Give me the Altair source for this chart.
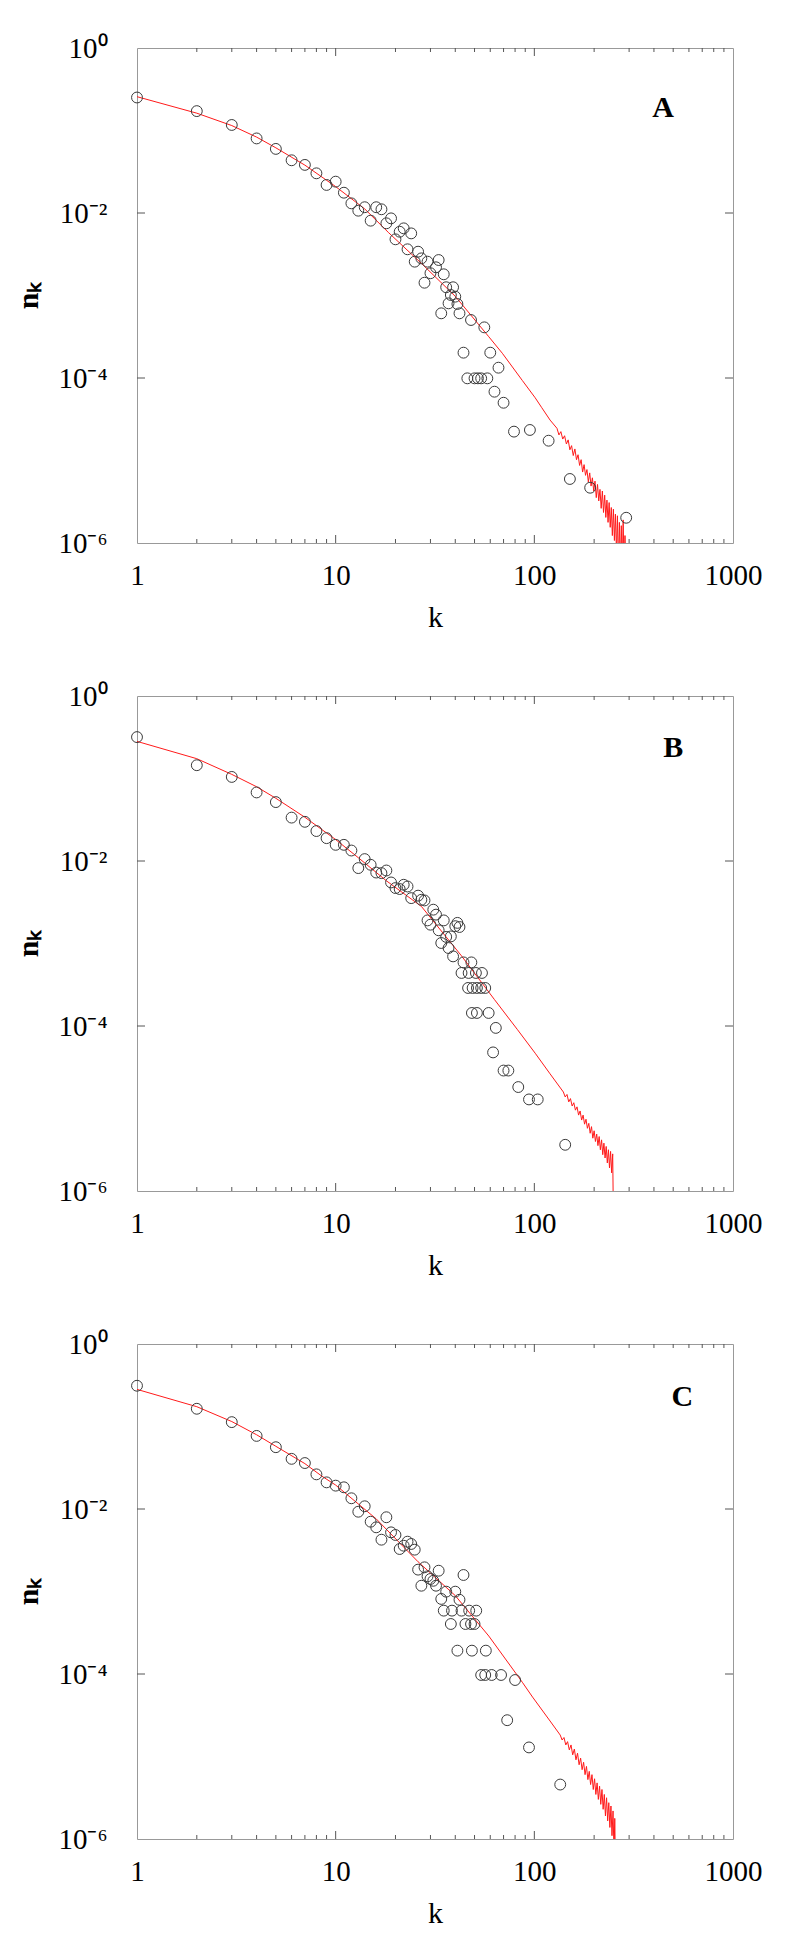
import altair as alt
import pandas as pd

# ---------------- data (k, log10 n) ----------------
A_pts_k = [1, 2, 3, 4, 5, 6, 7, 8, 9, 10, 11, 12, 13, 14, 15, 16, 17, 18, 19, 20,
           21, 22, 23, 24, 25, 26, 27, 28, 29, 30, 32, 33, 34, 35, 36, 37, 38, 39, 40,
           41, 42, 44, 46, 48, 50, 52, 54, 56, 58, 60, 63, 66, 70, 79, 95, 118, 151, 191, 290]
A_pts_logn = [-0.60, -0.765, -0.933, -1.096, -1.223, -1.361, -1.417, -1.519, -1.66, -1.62,
              -1.754, -1.883, -1.972, -1.93, -2.093, -1.93, -1.955, -2.125, -2.065, -2.319,
              -2.227, -2.186, -2.44, -2.247, -2.59, -2.469, -2.55, -2.845, -2.59, -2.73,
              -2.658, -2.57, -3.216, -2.743, -2.90, -3.095, -2.994, -2.90, -3.014,
              -3.103, -3.216, -3.693, -4.004, -3.297, -4.004, -4.004, -4.004, -3.386, -4.004,
              -3.693, -4.166, -3.875, -4.30, -4.65, -4.63, -4.76, -5.224, -5.33, -5.694]

A_line_k = [1, 2, 3, 4, 5, 7, 10, 14, 18.5, 27, 40, 59, 69, 87, 101, 109, 120,
            130, 133, 136, 139, 142, 145, 148, 151, 154, 157, 160, 163, 166, 169, 172, 175,
            178, 181, 184, 187, 190, 193, 196, 199, 202, 205, 208, 211, 214, 217, 220, 223,
            226, 229, 232, 235, 238, 241, 244, 247, 250, 253, 256, 259, 262, 265, 268, 271,
            274, 277, 280, 283, 286, 289]
A_line_logn = [-0.59, -0.79, -0.94, -1.08, -1.21, -1.42, -1.68, -1.95, -2.24, -2.61, -3.01,
               -3.50, -3.70, -4.03, -4.24, -4.36, -4.51,
               -4.61, -4.69, -4.65, -4.74, -4.70, -4.80, -4.75, -4.87, -4.82, -4.94, -4.86,
               -4.99, -4.93, -5.06, -4.99, -5.14, -5.05, -5.18, -5.11, -5.26, -5.15, -5.31,
               -5.21, -5.37, -5.25, -5.45, -5.29, -5.49, -5.35, -5.58, -5.37, -5.63, -5.42,
               -5.69, -5.48, -5.75, -5.51, -5.81, -5.57, -5.91, -5.59, -5.97, -5.65, -6.10,
               -5.67, -6.30, -5.75, -6.30, -5.79, -6.30, -5.72, -6.30, -5.91, -6.30]

B_pts_k = [1, 2, 3, 4, 5, 6, 7, 8, 9, 10, 11, 12, 13, 14, 15, 16, 17, 18, 19, 20, 21, 22,
           23, 24, 26, 27, 28, 29, 30, 31, 32, 33, 34, 35, 36, 37, 38, 39, 40, 41, 42, 43,
           44, 46.4, 46.7, 48.2, 48.9, 48.5, 50.8, 51.4, 51.4, 54, 54.5, 56.6, 58.9, 64, 62,
           70, 74, 83, 94, 104, 143]
B_pts_logn = [-0.498, -0.839, -0.981, -1.169, -1.286, -1.474, -1.525, -1.637, -1.723, -1.804,
              -1.804, -1.873, -2.086, -1.977, -2.046, -2.14, -2.147, -2.115, -2.26, -2.328,
              -2.34, -2.288, -2.309, -2.45, -2.42, -2.47, -2.478, -2.72, -2.772, -2.59, -2.65,
              -2.84, -2.994, -2.72, -2.92, -3.055, -2.914, -3.156, -2.79, -2.75, -2.80,
              -3.357, -3.229, -3.539, -3.357, -3.229, -3.539, -3.842, -3.357, -3.539, -3.842,
              -3.539, -3.357, -3.539, -3.842, -4.023, -4.32, -4.54, -4.54, -4.74, -4.89,
              -4.89, -5.44]

B_line_k = [1, 2, 3, 4, 5, 7, 10, 13, 18, 27, 43, 63, 82, 101, 120,
            140, 143, 146, 149, 152, 155, 158, 161, 164, 167, 170, 173, 176, 179, 182, 185,
            188, 191, 194, 197, 200, 203, 206, 209, 212, 215, 218, 221, 224, 227, 230, 233,
            236, 239, 242, 245, 248, 250]
B_line_logn = [-0.55, -0.76, -0.95, -1.10, -1.24, -1.47, -1.74, -1.96, -2.24, -2.55, -3.15,
               -3.68, -4.04, -4.33, -4.58,
               -4.80, -4.86, -4.83, -4.92, -4.88, -4.97, -4.93, -5.02, -4.98, -5.08, -5.03,
               -5.14, -5.08, -5.19, -5.13, -5.24, -5.18, -5.30, -5.22, -5.36, -5.27, -5.40,
               -5.31, -5.45, -5.34, -5.50, -5.38, -5.56, -5.42, -5.60, -5.46, -5.66, -5.50,
               -5.72, -5.52, -5.78, -5.55, -6.30]

C_pts_k = [1, 2, 3, 4, 5, 6, 7, 8, 9, 10, 11, 12, 13, 14, 15, 16, 17, 18, 19, 20, 21, 22,
           23, 24, 25, 26, 27, 28, 29, 30, 31, 32, 33, 34, 35, 36, 38, 38.5, 40, 41, 42,
           43, 44, 45, 47, 48, 48.5, 50, 51, 54, 56.6, 57, 61, 68, 80, 73, 94, 135]
C_pts_logn = [-0.506, -0.785, -0.947, -1.114, -1.251, -1.392, -1.443, -1.58, -1.677, -1.717,
              -1.737, -1.87, -2.033, -1.967, -2.154, -2.222, -2.372, -2.10, -2.283, -2.315,
              -2.485, -2.445, -2.396, -2.424, -2.493, -2.735, -2.93, -2.707, -2.816, -2.848,
              -2.87, -2.93, -2.748, -3.09, -3.232, -3.002, -3.394, -3.232, -3.002, -3.717,
              -3.10, -3.232, -2.80, -3.394, -3.232, -3.394, -3.717, -3.394, -3.232, -4.012,
              -4.012, -3.717, -4.012, -4.012, -4.073, -4.56, -4.89, -5.34]

C_line_k = [1, 2, 3, 4, 5, 7, 8.5, 10, 16, 26, 40, 59, 87, 98, 120,
            135, 138, 141, 144, 147, 150, 153, 156, 159, 162, 165, 168, 171, 174, 177, 180,
            183, 186, 189, 192, 195, 198, 201, 204, 207, 210, 213, 216, 219, 222, 225, 228,
            231, 234, 237, 240, 243, 246, 249, 252, 254, 256]
C_line_logn = [-0.55, -0.76, -0.94, -1.10, -1.24, -1.45, -1.60, -1.71, -2.12, -2.64, -3.05,
               -3.54, -4.10, -4.28, -4.57,
               -4.74, -4.80, -4.77, -4.86, -4.82, -4.92, -4.86, -4.98, -4.91, -5.04, -4.96,
               -5.10, -5.02, -5.16, -5.07, -5.22, -5.12, -5.28, -5.18, -5.34, -5.22, -5.40,
               -5.27, -5.46, -5.32, -5.52, -5.36, -5.58, -5.40, -5.64, -5.46, -5.72, -5.50,
               -5.78, -5.56, -5.86, -5.60, -5.96, -5.66, -6.20, -5.75, -6.30]

PANEL_LETTERS = ["A", "B", "C"]
LETTER_K = [445, 500, 556]
LETTER_N = [0.19, 0.237, 0.225]

X_LABELS = [1, 10, 100, 1000]
Y_LABELS = [1, 1e-2, 1e-4, 1e-6]
X_MAJOR = [10, 100]
X_MINOR = [2, 3, 4, 5, 6, 7, 8, 9, 20, 30, 40, 50, 60, 70, 80, 90,
           200, 300, 400, 500, 600, 700, 800, 900]
Y_MAJOR = [1e-2, 1e-4]

W, H = 596, 495
FONT = "Liberation Serif"


def panel(letter, lab_k, lab_n, pk, pl, lk, ll):
    pts = pd.DataFrame({"k": pk, "n": [10 ** v for v in pl]})
    line = pd.DataFrame({"k": lk, "n": [10 ** v for v in ll], "o": list(range(len(lk)))})
    xs = alt.Scale(type="log", domain=[1, 1000], nice=False)
    ys = alt.Scale(type="log", domain=[1e-6, 1], nice=False)

    xaxis = alt.Axis(values=X_LABELS, format="d", title="k", labelPadding=18,
                     titlePadding=12, labelFlush=False, labelOverlap=False)
    yaxis = alt.Axis(values=Y_LABELS, title="nₖ", labelPadding=30, titlePadding=14,
                     labelOverlap=False, titleFontWeight="bold",
                     labelExpr="datum.value > 0.5 ? '10⁰' : datum.value > 0.005 ? '10⁻²' : "
                               "datum.value > 0.00005 ? '10⁻⁴' : '10⁻⁶'")

    lin = alt.Chart(line).mark_line(color="#ff1a1a", strokeWidth=1, clip=True).encode(
        x=alt.X("k:Q", scale=xs, axis=xaxis),
        y=alt.Y("n:Q", scale=ys, axis=yaxis),
        order="o:Q",
    )
    dots = alt.Chart(pts).mark_point(shape="circle", filled=False, size=118,
                                     stroke="#3a3a3a", strokeWidth=1, opacity=1).encode(
        x=alt.X("k:Q", scale=xs),
        y=alt.Y("n:Q", scale=ys),
    )
    xmin = pd.DataFrame({"v": X_MINOR})
    xmaj = pd.DataFrame({"v": X_MAJOR})
    ymaj = pd.DataFrame({"v": Y_MAJOR})
    tick_col = "#555555"
    t1 = alt.Chart(xmin).mark_rule(color=tick_col, strokeWidth=1).encode(
        x=alt.X("v:Q", scale=xs), y=alt.value(H), y2=alt.value(H - 4))
    t2 = alt.Chart(xmin).mark_rule(color=tick_col, strokeWidth=1).encode(
        x=alt.X("v:Q", scale=xs), y=alt.value(0), y2=alt.value(4))
    t3 = alt.Chart(xmaj).mark_rule(color=tick_col, strokeWidth=1).encode(
        x=alt.X("v:Q", scale=xs), y=alt.value(H), y2=alt.value(H - 8))
    t4 = alt.Chart(xmaj).mark_rule(color=tick_col, strokeWidth=1).encode(
        x=alt.X("v:Q", scale=xs), y=alt.value(0), y2=alt.value(8))
    t5 = alt.Chart(ymaj).mark_rule(color=tick_col, strokeWidth=1).encode(
        y=alt.Y("v:Q", scale=ys), x=alt.value(0), x2=alt.value(8))
    t6 = alt.Chart(ymaj).mark_rule(color=tick_col, strokeWidth=1).encode(
        y=alt.Y("v:Q", scale=ys), x=alt.value(W), x2=alt.value(W - 8))
    lab = alt.Chart(pd.DataFrame({"t": [letter]})).mark_text(
        font=FONT, fontWeight="bold", fontSize=30, color="black",
        align="center", baseline="middle").encode(
        x=alt.datum(lab_k), y=alt.datum(lab_n), text="t:N")
    return alt.layer(lin, dots, t1, t2, t3, t4, t5, t6, lab).properties(width=W, height=H)


pA = panel(PANEL_LETTERS[0], LETTER_K[0], LETTER_N[0], A_pts_k, A_pts_logn, A_line_k, A_line_logn)
pB = panel(PANEL_LETTERS[1], LETTER_K[1], LETTER_N[1], B_pts_k, B_pts_logn, B_line_k, B_line_logn)
pC = panel(PANEL_LETTERS[2], LETTER_K[2], LETTER_N[2], C_pts_k, C_pts_logn, C_line_k, C_line_logn)

chart = alt.vconcat(pA, pB, pC, spacing=153, bounds="flush").properties(
    padding={"left": 5, "top": 25, "right": 5, "bottom": 5}
).configure_view(
    stroke="#999999", strokeWidth=1
).configure_axis(
    domain=False, ticks=False, grid=False,
    labelFont=FONT, labelFontSize=29, labelColor="black",
    titleFont=FONT, titleFontSize=30, titleColor="black", titleFontWeight="normal",
)

chart.save("out.html", embed_options={"renderer": "svg", "actions": False})
